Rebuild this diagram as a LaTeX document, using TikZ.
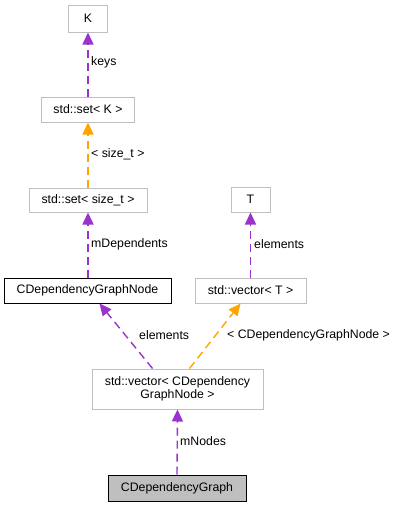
\documentclass[tikz,border=0pt]{standalone}
\usepackage{fontspec}
\setmainfont{Liberation Sans}
\usetikzlibrary{arrows.meta,calc}
\definecolor{epurple}{RGB}{154,50,205}
\definecolor{eorange}{RGB}{255,165,0}
\definecolor{bgray}{RGB}{191,191,191}
\begin{document}
\begin{tikzpicture}[x=1pt,y=-1pt,
  every node/.style={font=\fontsize{12.3}{13.5}\selectfont},
  cbox/.style={draw=bgray,line width=1pt,inner sep=0pt,align=center},
  kbox/.style={draw=black,line width=1pt,inner sep=0pt,align=center},
  pedge/.style={draw=epurple,line width=1.4pt,dash pattern=on 8pt off 5pt,-{Triangle[length=12pt,width=11pt,fill=epurple]}},
  oedge/.style={draw=eorange,line width=1.4pt,dash pattern=on 8pt off 5pt,-{Triangle[length=12pt,width=11pt,fill=eorange]}},
  lbl/.style={anchor=west,inner sep=0pt}]
\useasboundingbox (0,0) rectangle (400,507);
\node[cbox,minimum width=39pt,minimum height=27pt] (K) at (88,18.5) {K};
\node[cbox,minimum width=93pt,minimum height=25pt] (setK) at (88,109.5) {std::set< K >};
\node[cbox,minimum width=118pt,minimum height=24pt] (setS) at (88,200) {std::set< size\_t >};
\node[kbox,minimum width=167pt,minimum height=25pt] (cdgn) at (87.5,290.5) {CDependencyGraphNode};
\node[cbox,minimum width=39pt,minimum height=25pt] (T) at (250.5,199.5) {T};
\node[cbox,minimum width=111pt,minimum height=25pt] (vecT) at (250.5,290.5) {std::vector< T >};
\node[cbox,minimum width=171pt,minimum height=40pt] (vecC) at (177.5,389) {std::vector< CDependency\\GraphNode >};
\node[kbox,fill=bgray,minimum width=138pt,minimum height=26pt] (cdg) at (177,488) {CDependencyGraph};

\draw[pedge] (setK.north -| K) -- (K.south);
\draw[oedge] (setS.north -| setK) -- (setK.south);
\draw[pedge] (cdgn.north -| setS) -- (setS.south);
\draw[pedge] (vecT.north) -- (T.south);
\draw[pedge] ($(vecC.north)+(-25,0)$) -- ($(cdgn.south)+(12,0)$);
\draw[oedge] ($(vecC.north)+(12,0)$) -- ($(vecT.south)+(-10,0)$);
\draw[pedge] (cdg.north) -- (vecC.south);

\node[lbl] (l1) at (91,62) {keys};
\node[lbl] (l2) at (91,154) {< size\_t >};
\node[lbl] (l3) at (91,244) {mDependents};
\node[lbl] (l4) at (254,244) {elements};
\node[lbl] (l5) at (139,335) {elements};
\node[lbl] (l6) at (227,335) {< CDependencyGraphNode >};
\node[lbl] (l7) at (180,441) {mNodes};
\end{tikzpicture}
\end{document}
